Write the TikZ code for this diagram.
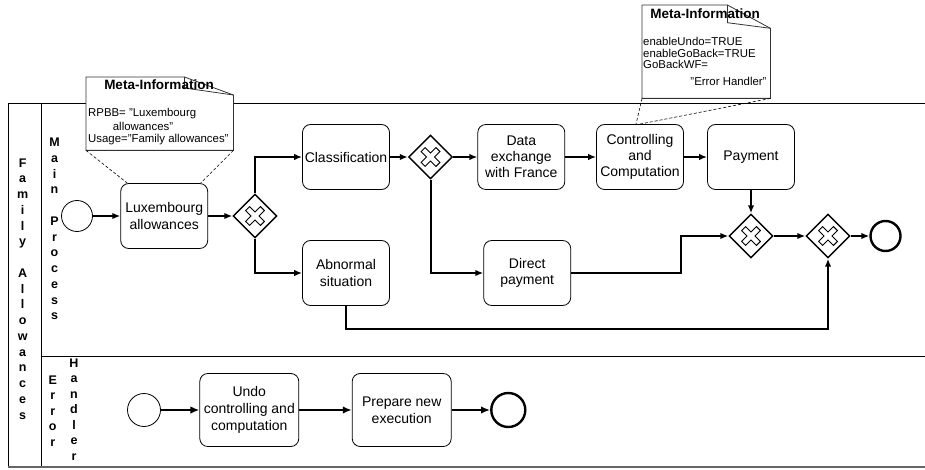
\documentclass[tikz,border=0pt]{standalone}
\usepackage{fontspec}
\setmainfont{Liberation Sans}
\usetikzlibrary{shapes.geometric,arrows.meta,calc}
\begin{document}
\begin{tikzpicture}[x=1pt,y=-1pt,
  task/.style={draw, rounded corners=8pt, line width=0.8pt, fill=white, align=center,
    font=\fontsize{14}{16.2}\selectfont, minimum width=87pt, minimum height=65pt, inner sep=0pt},
  bigtask/.style={task, minimum width=99pt, minimum height=73pt, font=\fontsize{14}{16.7}\selectfont},
  gw/.style={diamond, aspect=1, draw, line width=1.4pt, fill=white, minimum width=44pt,
    minimum height=44pt, inner sep=0pt,
    path picture={\draw[line width=0.9pt, line join=miter, shift={(path picture bounding box.center)}]
      (-5.45,9.41) -- (0,3.96) -- (5.45,9.41) -- (9.41,5.45) -- (3.96,0) -- (9.41,-5.45) --
      (5.45,-9.41) -- (0,-3.96) -- (-5.45,-9.41) -- (-9.41,-5.45) -- (-3.96,0) -- (-9.41,5.45) -- cycle;}},
  startev/.style={circle, draw, line width=0.8pt, minimum size=31pt, inner sep=0pt},
  endev/.style={circle, draw, line width=2.4pt, minimum size=30pt, inner sep=0pt},
  flow/.style={line width=2pt, -{Latex[length=8pt,width=6.5pt]}},
  eflow/.style={line width=2.8pt, -{Latex[length=9pt,width=7.5pt]}},
  poolline/.style={line width=1pt},
  lanelbl/.style={align=center, font=\bfseries\fontsize{12.5}{15.75}\selectfont, inner sep=0pt},
  metaline/.style={draw=black!80, line width=0.8pt},
  metatitle/.style={font=\bfseries\fontsize{13.5}{15}\selectfont, inner sep=0pt},
  metatext/.style={font=\fontsize{11.4}{12}\selectfont, inner sep=0pt},
  assoc/.style={dash pattern=on 3pt off 2pt, line width=0.6pt}
]
\useasboundingbox (0,0) rectangle (925,470);
\fill[white] (0,0) rectangle (925,470);

% pool and lanes
\draw[poolline] (8,104) -- (925,104);
\draw[poolline] (8,104) -- (8,467);
\draw[poolline] (41,104) -- (41,467);
\draw[poolline] (41,356) -- (925,356);
\draw[line width=1.5pt, black!60] (8,467) -- (925,467);

\node[lanelbl] (poolname) at (22.7,289) {F\\a\\m\\i\\l\\y\\\mbox{}\\A\\l\\l\\o\\w\\a\\n\\c\\e\\s};
\node[lanelbl] (lanemain) at (54.5,229) {M\\a\\i\\n\\\mbox{}\\P\\r\\o\\c\\e\\s\\s};
\node[lanelbl, font=\bfseries\fontsize{12.5}{15.5}\selectfont] (laneerr1) at (52.7,411) {E\\r\\r\\o\\r};
\node[lanelbl, font=\bfseries\fontsize{12.5}{15.5}\selectfont] (laneerr2) at (74,409.5) {H\\a\\n\\d\\l\\e\\r};

% main process nodes
\node[startev] (s1) at (77,216) {};
\node[task] (lux) at (164.2,216) {Luxembourg\\allowances};
\node[gw] (gw1) at (255,216) {};
\node[task] (cls) at (346,157) {Classification};
\node[task] (abn) at (346,273) {Abnormal\\situation};
\node[gw] (gw2) at (430.5,157) {};
\node[task] (dex) at (521.3,157) {Data\\exchange\\with France};
\node[task] (ctrl) at (640,157) {Controlling\\and\\Computation};
\node[task] (pay) at (751,157) {Payment};
\node[task] (dp) at (527.2,273) {Direct\\payment};
\node[gw] (gw3) at (751,236) {};
\node[gw] (gw4) at (828,236) {};
\node[endev] (e1) at (885.5,236) {};

% error handler nodes
\node[startev, minimum size=33pt] (s2) at (144,410) {};
\node[bigtask] (undo) at (249.3,410) {Undo\\controlling and\\computation};
\node[bigtask] (prep) at (401.7,410) {Prepare new\\execution};
\node[endev, minimum size=34pt] (e2) at (508.3,410) {};

% flows
\draw[flow] (s1.east) -- (lux.west);
\draw[flow] (lux.east) -- (gw1.west);
\draw[flow] (gw1.north) |- (cls.west);
\draw[flow] (gw1.south) |- (abn.west);
\draw[flow] (cls.east) -- (gw2.west);
\draw[flow] (gw2.east) -- (dex.west);
\draw[flow] (gw2.south) |- (dp.west);
\draw[flow] (dex.east) -- (ctrl.west);
\draw[flow] (ctrl.east) -- (pay.west);
\draw[flow] (pay.south) -- (gw3.north);
\coordinate (bend1) at (681,236);
\draw[flow] (dp.east) -| (bend1) -- (gw3.west);
\draw[flow] (gw3.east) -- (gw4.west);
\draw[flow] (gw4.east) -- (e1.west);
\coordinate (bend2) at (600,329);
\draw[flow] (abn.south) |- (bend2) -| (gw4.south);

\draw[eflow] (s2.east) -- (undo.west);
\draw[eflow] (undo.east) -- (prep.west);
\draw[eflow] (prep.east) -- (e2.west);

% meta information 1
\node[minimum width=147pt, minimum height=73pt, anchor=north west, inner sep=0pt] (meta1) at (86,77) {};
\fill[white] (meta1.south west) -- (meta1.north west) -- ($(meta1.north east)+(-49,0)$)
  -- ($(meta1.north east)+(0,18)$) -- (meta1.south east) -- cycle;
\draw[metaline] (meta1.south west) -- (meta1.north west) -- ($(meta1.north east)+(-49,0)$)
  -- ($(meta1.north east)+(0,18)$) -- (meta1.south east) -- cycle;
\draw[metaline] ($(meta1.north east)+(-49,0)$) -- ($(meta1.north east)+(-49,11)$) -- ($(meta1.north east)+(0,18)$);
\node[metatitle] (m1title) at (159,85) {Meta-Information};
\node[metatext, anchor=base west] (m1l1) at (88,117) {RPBB= "Luxembourg};
\node[metatext, anchor=base] (m1l2) at (143,130.7) {allowances"};
\node[metatext, anchor=base west] (m1l3) at (88,143) {Usage="Family allowances"};
\draw[assoc] (meta1.south west) -- ($(lux.north west)+(7,0)$);
\draw[assoc] (meta1.south east) -- ($(lux.north east)+(-7.5,0)$);

% meta information 2
\node[minimum width=128pt, minimum height=93pt, anchor=north west, inner sep=0pt] (meta2) at (642,5) {};
\fill[white] (meta2.south west) -- (meta2.north west) -- ($(meta2.north east)+(-43,0)$)
  -- ($(meta2.north east)+(0,23.3)$) -- (meta2.south east) -- cycle;
\draw[metaline] (meta2.south west) -- (meta2.north west) -- ($(meta2.north east)+(-43,0)$)
  -- ($(meta2.north east)+(0,23.3)$) -- (meta2.south east) -- cycle;
\draw[metaline] ($(meta2.north east)+(-43,0)$) -- ($(meta2.north east)+(-43,17.7)$) -- ($(meta2.north east)+(0,23.3)$);
\node[metatitle] (m2title) at (705,13.5) {Meta-Information};
\node[metatext, anchor=base west] (m2l1) at (643,45.7) {enableUndo=TRUE};
\node[metatext, anchor=base west] (m2l2) at (643,57.3) {enableGoBack=TRUE};
\node[metatext, anchor=base west] (m2l3) at (643,69) {GoBackWF=};
\node[metatext, anchor=base east] (m2l4) at (766.7,85.7) {"Error Handler"};
\draw[assoc] (meta2.south west) -- ($(ctrl.north)+(-4,0)$);
\draw[assoc] (meta2.south east) -- (ctrl.north);
\end{tikzpicture}
\end{document}
